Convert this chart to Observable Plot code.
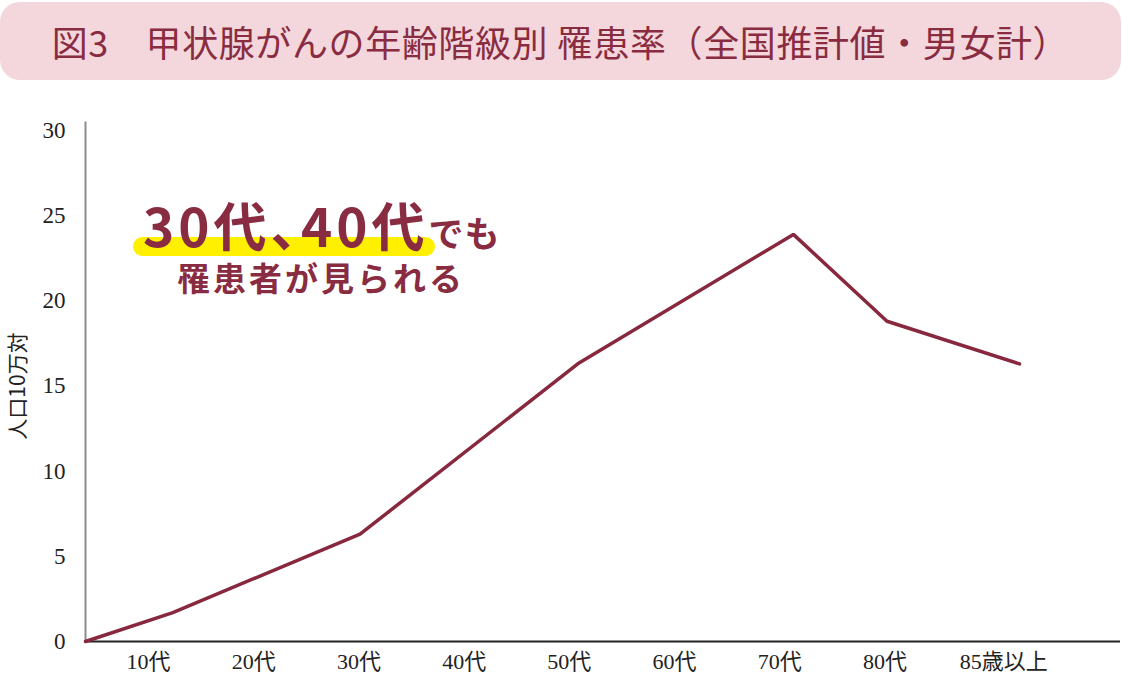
<!DOCTYPE html>
<html lang="ja">
<head>
<meta charset="utf-8">
<script src="https://cdn.jsdelivr.net/npm/d3@7"></script>
<script src="https://cdn.jsdelivr.net/npm/@observablehq/plot@0.6"></script>
<style>
  html, body { margin: 0; padding: 0; background: #fff; }
  #wrap { position: relative; width: 1122px; height: 675px; overflow: hidden; }
  #title {
    position: absolute; left: 0; top: 2px; width: 1121px; height: 78px;
    background: #f3d7dc; border-radius: 20px;
    display: flex; align-items: center; justify-content: center;
    color: #8a2c41; font-family: "Noto Sans CJK JP", sans-serif; font-size: 36px; letter-spacing: 0.6px;
  }
  #chart { position: absolute; left: 0; top: 90px; }
  #note { position: absolute; left: 0; top: 0; font-family: "Noto Sans CJK JP", sans-serif; font-weight: 700; color: #8a2c41; }
  #hl { position: absolute; left: 133px; top: 237px; width: 302px; height: 19px; background: #fff000; border-radius: 10px; }
  #l1 { position: absolute; left: 143px; top: 198px; white-space: nowrap; line-height: 1; height: 54px; }
  #l1 .big { font-size: 53px; letter-spacing: 4px; font-feature-settings: "palt" 1; }
  #l1 .small { font-size: 35px; letter-spacing: 1px; }
  #l2 { position: absolute; left: 177px; top: 261px; font-size: 33px; white-space: nowrap; line-height: 1; letter-spacing: 3px; }
</style>
</head>
<body>
<div id="wrap">
  <div id="title">図3　甲状腺がんの年齢階級別 罹患率（全国推計値・男女計）</div>
  <div id="chart"></div>
  <div id="hl"></div>
  <div id="note">
    <div id="l1"><span class="big">30代、40代</span><span class="small">でも</span></div>
    <div id="l2">罹患者が見られる</div>
  </div>
</div>
<script>
// Data (ages on a continuous axis, rate per 100,000 population)
const ages  = [4, 12.3, 30.1, 50.8, 71.3, 80.2, 92.8];
const rates = [0, 1.7, 6.3, 16.3, 23.9, 18.8, 16.3];
const tickAges   = [10, 20, 30, 40, 50, 60, 70, 80, 91.3];
const tickLabels = ["10代", "20代", "30代", "40代", "50代", "60代", "70代", "80代", "85歳以上"];
const yTicks = [0, 5, 10, 15, 20, 25, 30];

const data = ages.map((a, i) => ({age: a, rate: rates[i]}));
const labelOf = new Map(tickAges.map((a, i) => [a, tickLabels[i]]));

const chart = Plot.plot({
  width: 1122,
  height: 585,
  marginLeft: 85,
  marginRight: 2,
  marginTop: 40,
  marginBottom: 34,
  style: {fontFamily: "'Liberation Serif', 'Noto Sans CJK JP', serif", fontSize: "22px", color: "#222", background: "transparent"},
  x: {domain: [4, 102.4], label: null},
  y: {domain: [0, 30], label: null},
  marks: [
    Plot.ruleX([4], {y1: 0, y2: 30.5, stroke: "#8c8c8c", strokeWidth: 2}),
    Plot.ruleY([0], {stroke: "#222", strokeWidth: 2}),
    Plot.axisX({ticks: tickAges, tickFormat: d => labelOf.get(d), tickSize: 0, tickPadding: 12, label: null,
      fontFamily: "'Liberation Serif', 'Noto Sans CJK JP', serif", fontSize: 22, fill: "#222"}),
    Plot.axisY({ticks: yTicks, tickSize: 0, tickPadding: 20, label: null,
      fontFamily: "'Liberation Serif', serif", fontSize: 23, fill: "#222"}),
    Plot.line(data, {x: "age", y: "rate", stroke: "#87283e", strokeWidth: 3.5, strokeLinejoin: "miter"}),
    Plot.text(["人口10万対"], {frameAnchor: "left", textAnchor: "middle", dx: -67, dy: 0, rotate: -90, fontSize: 21, fill: "#222",
      fontFamily: "'Noto Sans CJK JP', sans-serif"})
  ]
});
document.getElementById("chart").appendChild(chart);
</script>
</body>
</html>
